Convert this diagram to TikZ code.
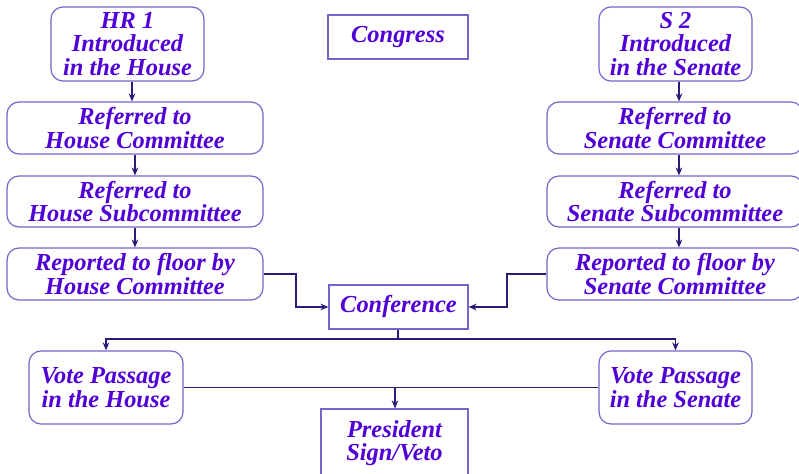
\documentclass[tikz,border=0pt]{standalone}
\usepackage{fontspec}
\setmainfont{Liberation Serif}
\usetikzlibrary{arrows.meta}
\definecolor{txt}{RGB}{80,0,215}
\definecolor{brd}{RGB}{120,100,200}
\definecolor{arr}{RGB}{45,25,120}
\begin{document}
\begin{tikzpicture}[x=0.75pt,y=-0.75pt,
  lbl/.style={font=\bfseries\itshape\fontsize{18.3pt}{17.6pt}\selectfont, text=txt, align=center, inner sep=0pt, draw=brd, line width=0.9pt},
  rbox/.style={lbl, rounded corners=9pt},
  sbox/.style={lbl},
  conn/.style={draw=arr, line width=0.9pt, -{Stealth[length=6pt,width=5pt]}},
  plain/.style={draw=arr, line width=0.9pt}]
\clip (0,0) rectangle (799,474);
\fill[white] (0,0) rectangle (799,474);
% nodes
\node[rbox, minimum width=114.75pt, minimum height=55.5pt] (hr1) at (127.5,44) {HR 1\\Introduced\\in the House};
\node[sbox, minimum width=105pt, minimum height=33pt] (cong) at (398,37) {Congress};
\node[rbox, minimum width=114.75pt, minimum height=55.5pt] (s2) at (675.5,44) {S 2\\Introduced\\in the Senate};
\node[rbox, minimum width=192pt, minimum height=39pt] (rhc) at (135,128) {Referred to\\House Committee};
\node[rbox, minimum width=192pt, minimum height=38.25pt] (rhs) at (135,201.5) {Referred to\\House Subcommittee};
\node[rbox, minimum width=192pt, minimum height=39pt] (reph) at (135,274) {Reported to floor by\\House Committee};
\node[rbox, minimum width=192pt, minimum height=39pt] (rsc) at (675,128) {Referred to\\Senate Committee};
\node[rbox, minimum width=192pt, minimum height=38.25pt] (rss) at (675,201.5) {Referred to\\Senate Subcommittee};
\node[rbox, minimum width=192pt, minimum height=39pt] (reps) at (675,274) {Reported to floor by\\Senate Committee};
\node[sbox, minimum width=104.25pt, minimum height=33pt] (conf) at (398.5,307) {Conference};
\node[rbox, minimum width=115.5pt, minimum height=54.75pt] (vh) at (106,387.5) {Vote Passage\\in the House};
\node[rbox, minimum width=114.75pt, minimum height=54.75pt] (vs) at (675.5,387.5) {Vote Passage\\in the Senate};
\node[sbox, minimum width=110.25pt, minimum height=51pt] (pres) at (394.5,443) {President\\Sign/Veto};
% connectors
\draw[conn] (hr1.south -| 132,0) -- (rhc.north -| 132,0);
\draw[conn] (rhc) -- (rhs);
\draw[conn] (rhs) -- (reph);
\draw[conn] (s2.south -| 679,0) -- (rsc.north -| 679,0);
\draw[conn] (rsc.south -| 679,0) -- (rss.north -| 679,0);
\draw[conn] (rss.south -| 679,0) -- (reps.north -| 679,0);
\draw[conn] (reph.east) -| (296,307) -- (conf.west);
\draw[conn] (reps.west) -| (507,307) -- (conf.east);
\coordinate (split) at (398,339);
\draw[plain] (conf.south -| split) -- (split);
\draw[conn] (split) -| (vh.north);
\draw[conn] (split) -| (vs.north);
\draw[plain] (vh.east) -- (vs.west);
\coordinate (join) at (395,387.5);
\draw[conn] (join) -- (pres.north -| join);
\end{tikzpicture}
\end{document}
